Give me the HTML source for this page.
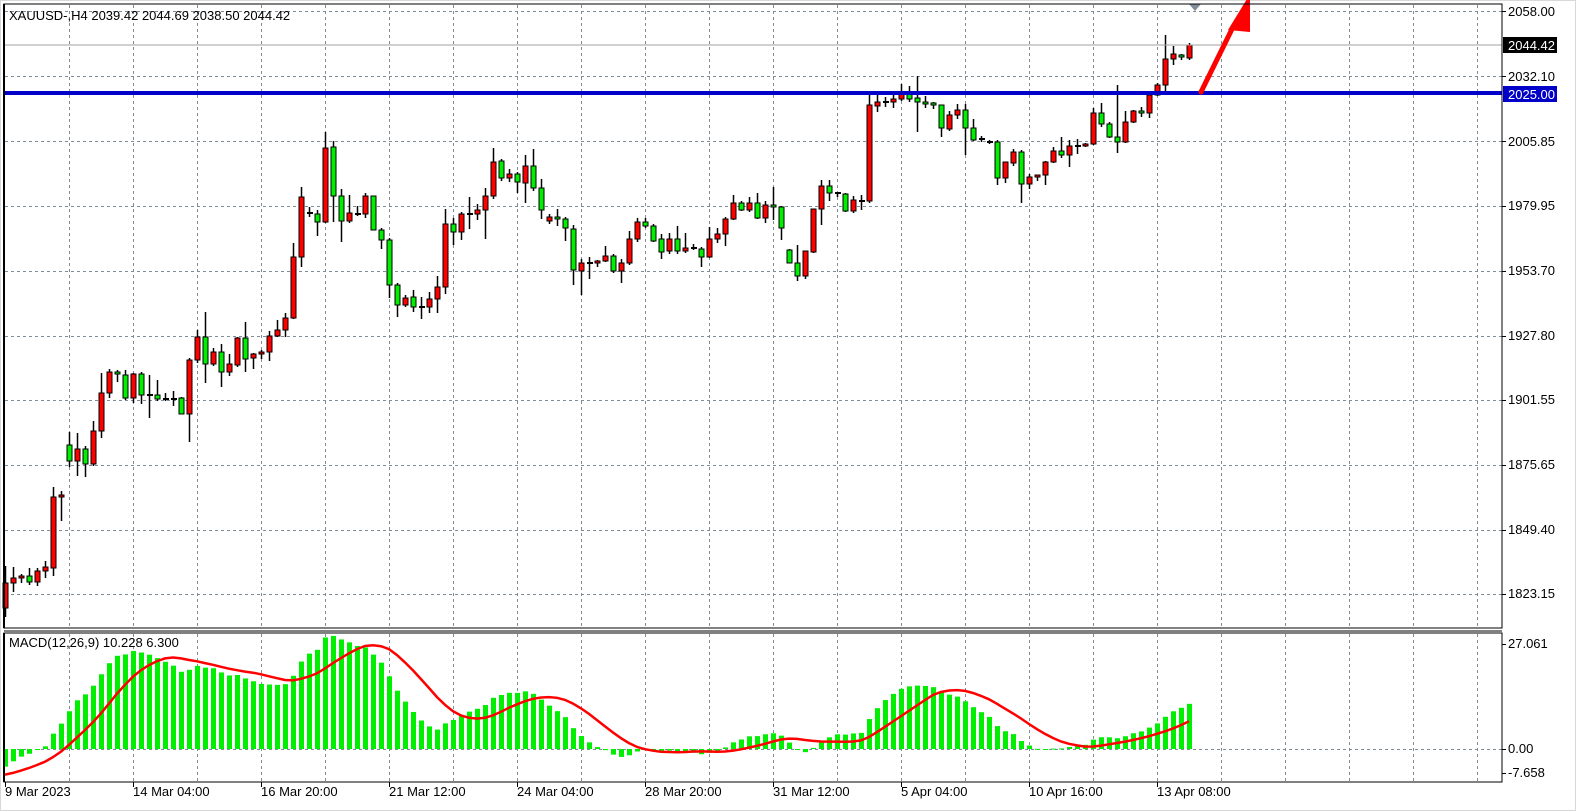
<!DOCTYPE html>
<html><head><meta charset="utf-8"><style>
html,body{margin:0;padding:0;background:#fff;}
body{width:1576px;height:811px;position:relative;overflow:hidden;font-family:"Liberation Sans",sans-serif;}
svg{position:absolute;left:0;top:0;}
svg text{font-family:"Liberation Sans",sans-serif;font-size:13px;fill:#000;}
</style></head><body>
<svg id="s" width="1576" height="811" viewBox="0 0 1576 811">
<rect x="0.5" y="0.5" width="1575" height="810" fill="#fff" stroke="#d8d8d8"/>
<g id="grid"></g>
<g id="candles"></g>
<g id="macd"></g>
<line x1="4" y1="45" x2="1502" y2="45" stroke="#a0a0a0" stroke-width="1"/>
<line x1="4" y1="93" x2="1502" y2="93" stroke="#0000c8" stroke-width="4"/>
<line x1="1201" y1="92" x2="1234" y2="25" stroke="#ff0000" stroke-width="5" stroke-linecap="round"/>
<polygon points="1228,30 1250,-6 1250,32" fill="#ff0000"/>
<polygon points="1189,4 1201,4 1195,11" fill="#7f8c99"/>
<rect x="4" y="4" width="1498" height="624" fill="none" stroke="#000" stroke-width="1"/>
<line x1="4" y1="4" x2="4" y2="628" stroke="#000" stroke-width="2"/>
<rect x="4" y="633" width="1498" height="149" fill="none" stroke="#000" stroke-width="1"/>
<line x1="4" y1="631" x2="1502" y2="631" stroke="#000" stroke-width="1"/>
<line x1="4" y1="633" x2="4" y2="782" stroke="#000" stroke-width="2"/>
<text x="9" y="20">XAUUSD-,H4  2039.42 2044.69 2038.50 2044.42</text>
<text x="9" y="647">MACD(12,26,9) 10.228 6.300</text>
<g id="ticks" stroke="#000"></g>
<text x="1508" y="16">2058.00</text>
<rect x="1503" y="37" width="54" height="16" fill="#000"/>
<text x="1508" y="50" style="fill:#fff">2044.42</text>
<text x="1508" y="81">2032.10</text>
<rect x="1503" y="86" width="54" height="16" fill="#0000c8"/>
<text x="1508" y="99" style="fill:#fff">2025.00</text>
<text x="1508" y="146">2005.85</text>
<text x="1508" y="210">1979.95</text>
<text x="1508" y="275">1953.70</text>
<text x="1508" y="340">1927.80</text>
<text x="1508" y="404">1901.55</text>
<text x="1508" y="469">1875.65</text>
<text x="1508" y="534">1849.40</text>
<text x="1508" y="598">1823.15</text>
<text x="1508" y="648">27.061</text>
<text x="1508" y="753">0.00</text>
<text x="1508" y="777">-7.658</text>
<text x="5" y="796">9 Mar 2023</text>
<text x="133" y="796">14 Mar 04:00</text>
<text x="261" y="796">16 Mar 20:00</text>
<text x="389" y="796">21 Mar 12:00</text>
<text x="517" y="796">24 Mar 04:00</text>
<text x="645" y="796">28 Mar 20:00</text>
<text x="773" y="796">31 Mar 12:00</text>
<text x="901" y="796">5 Apr 04:00</text>
<text x="1029" y="796">10 Apr 16:00</text>
<text x="1157" y="796">13 Apr 08:00</text>
</svg>
<script>
var D=[
"r 566 583 608 617","r 567 578 583 592","r 574 576 578 583","g 568 576 582 585","r 568 571 582 586","r 561 567 571 578","r 487 497 568 576","r 491 495 497 521","g 432 445 461 467","r 433 449 461 476",
"g 446 449 464 477","r 421 431 464 466","r 373 393 431 438","r 369 372 393 398","g 370 372 374 382","g 370 375 398 400","r 373 374 398 403","g 372 374 395 404","d 375 395 395 418","g 380 395 399 401",
"d 393 399 399 401","d 391 399 399 406","g 397 398 414 414","r 358 360 414 442","r 330 337 360 363","g 312 337 364 383","r 348 352 364 366","g 344 352 372 387","r 354 364 372 376","r 337 338 365 367",
"g 322 338 359 372","r 353 354 358 369","r 350 352 354 359","r 331 336 352 361","r 320 330 336 337","r 313 318 330 337","r 243 257 318 319","r 187 197 257 267","d 207 213 213 217","g 210 214 222 236",
"r 132 148 222 223","g 141 147 196 222","g 189 196 221 242","r 195 213 221 223","d 206 214 214 216","r 193 196 214 218","g 196 196 230 230","g 228 230 240 249","g 238 240 285 298","g 283 285 305 317",
"r 295 298 305 307","g 290 297 307 312","d 297 307 307 319","r 292 299 307 313","r 276 287 299 313","r 209 224 287 294","g 218 224 232 245","r 212 214 232 240","d 197 214 214 229","r 204 210 214 220",
"r 188 196 210 239","r 148 162 196 199","g 159 161 178 181","r 169 174 178 182","g 172 174 182 193","r 155 166 183 203","g 149 166 188 191","g 179 188 210 219","r 214 217 221 224","g 209 217 219 226",
"g 217 219 228 241","g 225 229 270 285","r 259 263 271 295","d 257 263 263 279","r 260 261 263 267","r 246 256 261 262","g 254 256 271 273","r 259 263 271 283","r 231 239 263 265","r 218 222 239 242",
"g 218 222 226 228","g 224 226 241 242","g 234 239 252 259","r 233 239 251 254","g 226 239 251 254","r 233 248 251 253","d 244 248 248 250","g 247 249 257 267","r 227 239 257 258","r 228 234 239 243",
"r 217 219 234 246","r 195 203 219 220","g 201 203 210 211","r 197 203 210 212","g 193 203 218 219","r 201 205 218 223","g 187 205 207 220","g 206 207 228 240","g 249 250 263 263","g 245 263 276 281",
"r 251 251 276 279","r 209 209 252 253","r 180 186 209 225","g 180 186 193 201","d 192 193 193 197","g 193 194 211 212","r 196 200 211 213","d 195 201 201 210","r 95 105 201 203","r 95 102 106 112",
"d 97 102 102 107","r 94 99 102 108","r 84 93 99 101","g 86 93 99 102","g 76 98 102 132","g 96 102 104 108","g 102 103 105 109","g 105 105 128 137","r 111 115 129 131","r 104 110 115 119",
"g 104 110 128 155","g 119 128 140 141","d 136 139 139 142","d 140 142 142 144","g 140 142 178 185","r 162 162 178 183","r 149 152 163 166","g 150 152 184 203","r 174 177 184 189","r 175 175 177 181",
"r 161 162 175 185","r 147 151 162 163","g 137 151 155 158","r 140 146 155 167","d 139 146 146 154","r 143 144 146 147","r 108 113 144 145","g 103 113 124 127","g 122 124 137 138","g 85 137 142 153",
"r 111 122 142 143","r 110 111 122 123","g 107 111 113 117","r 95 95 113 118","r 83 85 95 96","r 35 59 85 91","r 46 54 59 65","g 54 55 57 60","r 43 45 58 60"];
var NS="http://www.w3.org/2000/svg";
function el(p,t,a){var e=document.createElementNS(NS,t);for(var k in a)e.setAttribute(k,a[k]);p.appendChild(e);return e;}
var G=document.getElementById('grid'),C=document.getElementById('candles'),M=document.getElementById('macd'),T=document.getElementById('ticks');
var gs={stroke:"#7f8c99","stroke-width":1,"stroke-dasharray":"3,3"};
for(var x=69;x<1502;x+=64){el(G,'line',Object.assign({x1:x+.5,y1:5,x2:x+.5,y2:628},gs));el(G,'line',Object.assign({x1:x+.5,y1:634,x2:x+.5,y2:782},gs));}
[11,76,141,206,271,336,400,465,530,594].forEach(function(y){el(G,'line',Object.assign({x1:5,y1:y+.5,x2:1502,y2:y+.5},gs));el(T,'line',{x1:1502,y1:y+.5,x2:1506,y2:y+.5});});
el(G,'line',Object.assign({x1:5,y1:749.5,x2:1502,y2:749.5},gs));
[644,749,773].forEach(function(y){el(T,'line',{x1:1502,y1:y+.5,x2:1506,y2:y+.5});});
[5,133,261,389,517,645,773,901,1029,1157].forEach(function(x){el(T,'line',{x1:x+.5,y1:782,x2:x+.5,y2:787});});
var closes=[];
D.forEach(function(s,i){var a=s.split(' '),c=a[0],hi=+a[1],bt=+a[2],bb=+a[3],lo=+a[4];var x=5+8*i;
 el(C,'line',{x1:x+.5,y1:hi,x2:x+.5,y2:lo,stroke:"#000","stroke-width":1.5});
 if(c=='d'||bb-bt<1){el(C,'rect',{x:x-2,y:bt-1,width:6,height:2,fill:"#000"});}
 else el(C,'rect',{x:x-2,y:bt,width:5,height:bb-bt,fill:c=='r'?"#ff0000":"#00ee00",stroke:"#000","stroke-width":1});
 var cy=(c=='g')?bb:bt;closes.push(2058-(cy-11)/2.4928);});
var pre=[];for(var k=0;k<15;k++)pre.push(1842);for(var k=0;k<20;k++)pre.push(1842-k*1.4);for(var k=0;k<8;k++)pre.push(1814+k*0.3);
var all=pre.concat(closes);
var e12=all[0],e26=all[0],main=[];var a12=2/13,a26=2/27;
all.forEach(function(p){e12+=a12*(p-e12);e26+=a26*(p-e26);main.push(e12-e26);});
var sig=[];for(var i=0;i<main.length;i++){var s=0,n=0;for(var j=Math.max(0,i-8);j<=i;j++){s+=main[j];n++;}sig.push(s/n);}
var off=pre.length,sc=4.18,mx=0;for(var i=off;i<main.length;i++)mx=Math.max(mx,main[i]);
var f=27.06/mx;
var pts=[];
for(var i=0;i<closes.length;i++){var v=main[i+off]*f,x=5+8*i;var y=749-v*sc;
 el(M,'rect',{x:x-2,y:Math.min(y,749),width:5,height:Math.max(1,Math.abs(749-y)),fill:"#00ee00"});
 pts.push(x+','+(749-sig[i+off]*f*sc).toFixed(1));}
el(M,'polyline',{points:pts.join(' '),fill:"none",stroke:"#ff0000","stroke-width":2.5});
</script>
</body></html>
